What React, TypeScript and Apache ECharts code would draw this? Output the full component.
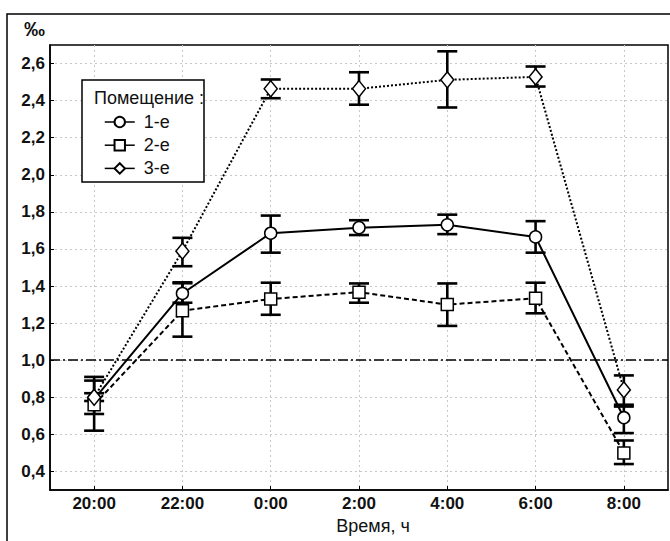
import React, { useEffect, useRef } from "react";
import * as echarts from "echarts";

const hours = ["20:00", "22:00", "0:00", "2:00", "4:00", "6:00", "8:00"];
const yTicks = [0.4, 0.6, 0.8, 1.0, 1.2, 1.4, 1.6, 1.8, 2.0, 2.2, 2.4, 2.6];
const seriesNames = ["1-е", "2-е", "3-е"];

const room1 = [0.79, 1.36, 1.685, 1.715, 1.73, 1.665, 0.69];
const room1Low = [0.71, 1.31, 1.58, 1.675, 1.68, 1.58, 0.607];
const room1High = [0.89, 1.42, 1.78, 1.755, 1.785, 1.75, 0.75];

const room2 = [0.76, 1.267, 1.33, 1.367, 1.3, 1.334, 0.5];
const room2Low = [0.62, 1.127, 1.245, 1.31, 1.185, 1.253, 0.44];
const room2High = [0.91, 1.415, 1.418, 1.414, 1.414, 1.418, 0.567];

const room3 = [0.8, 1.588, 2.464, 2.464, 2.512, 2.528, 0.84];
const room3Low = [0.78, 1.507, 2.413, 2.378, 2.363, 2.476, 0.76];
const room3High = [0.822, 1.66, 2.514, 2.553, 2.666, 2.584, 0.918];

const refLine = 1.0;

const FONT = "'Liberation Sans', Arial, sans-serif";

function pts(vals: number[]) {
  return vals.map((v, i) => [i, v]);
}
function errs(lo: number[], hi: number[]) {
  return lo.map((l, i) => [i, l, hi[i]]);
}

const errRender = (params: any, api: any) => {
  const x = api.value(0);
  const lo = api.coord([x, api.value(1)]);
  const hi = api.coord([x, api.value(2)]);
  const w = 10;
  const st = { stroke: "#000", lineWidth: 2.6 };
  return {
    type: "group",
    children: [
      { type: "line", shape: { x1: lo[0], y1: lo[1], x2: hi[0], y2: hi[1] }, style: st },
      { type: "line", shape: { x1: lo[0] - w, y1: lo[1], x2: lo[0] + w, y2: lo[1] }, style: st },
      { type: "line", shape: { x1: hi[0] - w, y1: hi[1], x2: hi[0] + w, y2: hi[1] }, style: st },
    ],
  };
};

export default function App() {
  const ref = useRef<HTMLDivElement>(null);
  useEffect(() => {
    if (!ref.current) return;
    const chart = echarts.init(ref.current, null, { renderer: "svg" });
    const symStyle = { color: "#fff", borderColor: "#000", borderWidth: 1.5 };
    chart.setOption({
      animation: false,
      textStyle: { fontFamily: FONT, color: "#111" },
      grid: {
        left: 50,
        top: 45,
        right: 2,
        bottom: 51,
        show: true,
        borderColor: "#000",
        borderWidth: 1.5,
        backgroundColor: "transparent",
      },
      xAxis: {
        type: "value",
        min: -0.5,
        max: 6.5,
        name: "Время, ч",
        nameLocation: "middle",
        nameGap: 22,
        nameTextStyle: { fontSize: 18, color: "#111", padding: [0, 0, 0, 28], fontFamily: FONT },
        axisLine: { show: true, onZero: false, lineStyle: { color: "#000", width: 1.5 } },
        axisTick: { show: true, inside: true, length: 4, customValues: hours.map((_, i) => i), lineStyle: { color: "#000" } },
        axisLabel: {
          customValues: hours.map((_, i) => i),
          formatter: (v: number) => hours[Math.round(v)] ?? "",
          fontSize: 17,
          fontWeight: "bold",
          color: "#111",
          margin: 5,
          fontFamily: FONT,
        },
        splitLine: { show: true, lineStyle: { color: "#c8c8c8", type: [2, 3], width: 1 } },
      },
      yAxis: {
        type: "value",
        min: 0.3,
        max: 2.7,
        name: "‰",
        nameLocation: "end",
        nameGap: 6,
        nameTextStyle: { fontSize: 21, fontWeight: "bold", color: "#111", align: "right", padding: [0, 5, 0, 0], fontFamily: FONT },
        axisLine: { show: true, onZero: false, lineStyle: { color: "#000", width: 1.5 } },
        axisTick: { show: true, inside: true, length: 4, customValues: yTicks, lineStyle: { color: "#000" } },
        axisLabel: {
          customValues: yTicks,
          formatter: (v: number) => v.toFixed(1).replace(".", ","),
          fontSize: 17,
          fontWeight: "bold",
          color: "#111",
          margin: 5,
          fontFamily: FONT,
        },
        splitLine: { show: true, lineStyle: { color: "#c8c8c8", type: [2, 3], width: 1 } },
      },
      legend: {
        orient: "vertical",
        left: 104,
        top: 113,
        padding: 0,
        itemWidth: 30,
        itemHeight: 13,
        itemGap: 5.2,
        z: 10,
        textStyle: { fontSize: 18, color: "#111", fontFamily: FONT, padding: [0, 0, 0, 4] },
        data: seriesNames.map((n) => ({ name: n, lineStyle: { type: "solid", width: 1.5 } })),
      },
      graphic: [
        {
          type: "rect",
          z: 1,
          shape: { x: 7, y: 14, width: 680, height: 560 },
          style: { fill: "none", stroke: "#000", lineWidth: 1.5 },
        },
        {
          type: "rect",
          z: 5,
          shape: { x: 82, y: 80, width: 122, height: 102 },
          style: { fill: "#fff", stroke: "#000", lineWidth: 1.5 },
        },
        {
          type: "text",
          z: 10,
          x: 94,
          y: 98,
          style: { text: "Помещение :", fontSize: 18, fontFamily: FONT, fill: "#111", verticalAlign: "middle" },
        },
      ],
      series: [
        {
          type: "custom",
          name: "err1",
          z: 2,
          renderItem: errRender,
          encode: { x: 0, y: [1, 2] },
          data: errs(room1Low, room1High),
        },
        {
          type: "custom",
          name: "err2",
          z: 2,
          renderItem: errRender,
          encode: { x: 0, y: [1, 2] },
          data: errs(room2Low, room2High),
        },
        {
          type: "custom",
          name: "err3",
          z: 2,
          renderItem: errRender,
          encode: { x: 0, y: [1, 2] },
          data: errs(room3Low, room3High),
        },
        {
          type: "line",
          name: seriesNames[0],
          z: 3,
          data: pts(room1),
          symbol: "circle",
          symbolSize: 12,
          lineStyle: { color: "#000", width: 2, type: "solid" },
          itemStyle: symStyle,
          markLine: {
            silent: true,
            symbol: ["none", "none"],
            label: { show: false },
            lineStyle: { color: "#000", width: 1.5, type: [10, 3, 2, 3] },
            data: [{ yAxis: refLine }],
          },
        },
        {
          type: "line",
          name: seriesNames[1],
          z: 3,
          data: pts(room2),
          symbol: "rect",
          symbolSize: 12,
          lineStyle: { color: "#000", width: 2, type: [5, 3] },
          itemStyle: symStyle,
        },
        {
          type: "line",
          name: seriesNames[2],
          z: 3,
          data: pts(room3),
          symbol: "diamond",
          symbolSize: [13, 16],
          lineStyle: { color: "#000", width: 2, type: [2, 2] },
          itemStyle: symStyle,
        },
      ],
    });
    return () => chart.dispose();
  }, []);
  return <div ref={ref} style={{ position: "fixed", left: 0, top: 0, width: 670, height: 541, background: "#fff" }} />;
}
